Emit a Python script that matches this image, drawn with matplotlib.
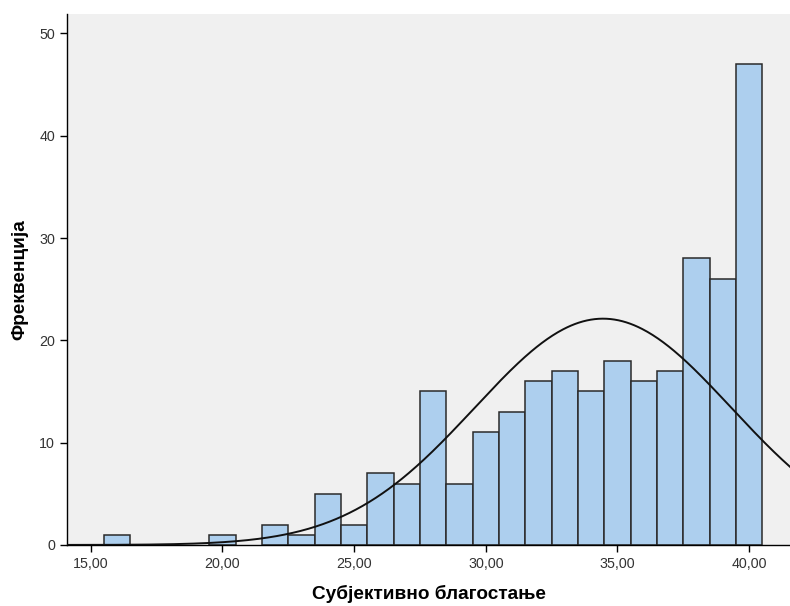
import numpy as np
import matplotlib
matplotlib.use("Agg")
import matplotlib.pyplot as plt

plt.rcParams['font.family'] = ['Liberation Sans', 'DejaVu Sans']

# Data
scores = [16, 20, 22, 23, 24, 25, 26, 27, 28, 29, 30, 31, 32, 33, 34, 35, 36, 37, 38, 39, 40]
counts = [1, 1, 2, 1, 5, 2, 7, 6, 15, 6, 11, 13, 16, 17, 15, 18, 16, 17, 28, 26, 47]
fit_mean = 34.45
fit_sd = 4.87
n_total = sum(counts)
bin_width = 1.0

x_ticks = [15, 20, 25, 30, 35, 40]
x_tick_labels = ["15,00", "20,00", "25,00", "30,00", "35,00", "40,00"]
y_ticks = [0, 10, 20, 30, 40, 50]

fig = plt.figure(figsize=(7.9, 6.06), dpi=100)
ax = fig.add_axes([0.0848, 0.1007, 0.9152, 0.8763])
ax.set_facecolor('#F0F0F0')

ax.bar(scores, counts, width=bin_width, color='#ADCFEE', edgecolor='#2a2a2a',
       linewidth=1.1, zorder=2)

xs = np.linspace(13, 43, 600)
ys = n_total * bin_width / (fit_sd * np.sqrt(2 * np.pi)) * np.exp(-(xs - fit_mean) ** 2 / (2 * fit_sd ** 2))
ax.plot(xs, ys, color='#111111', linewidth=1.4, zorder=3)

ax.set_xlim(14.1, 41.55)
ax.set_ylim(0, 51.9)
ax.set_xticks(x_ticks)
ax.set_xticklabels(x_tick_labels)
ax.set_yticks(y_ticks)

for s in ['top', 'right']:
    ax.spines[s].set_visible(False)
for s in ['left', 'bottom']:
    ax.spines[s].set_color('black')
    ax.spines[s].set_linewidth(1.0)

ax.tick_params(axis='both', direction='out', length=5, width=1, colors='black',
               labelsize=10.3, labelcolor='#333333')

ax.set_xlabel('Субјективно благостање', fontsize=13.7, fontweight='bold', labelpad=10)
ax.set_ylabel('Фреквенција', fontsize=13.7, fontweight='bold', labelpad=8)

fig.savefig('out.png', dpi=100)
